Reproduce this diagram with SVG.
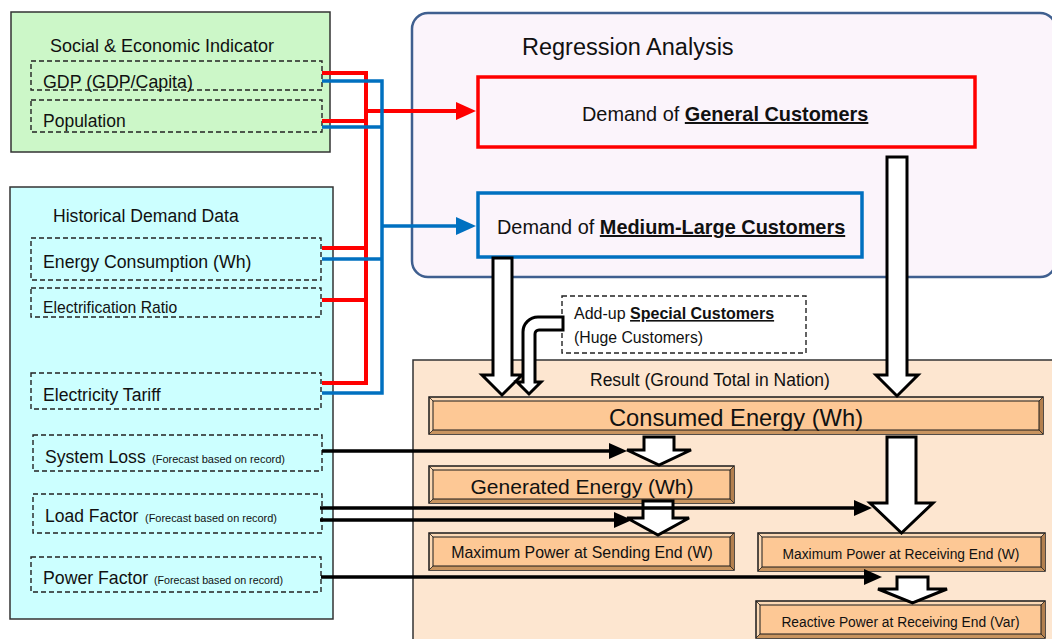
<svg xmlns="http://www.w3.org/2000/svg" width="1052" height="639" viewBox="0 0 1052 639">
  <style>
    text { font-family: "Liberation Sans", Arial, sans-serif; fill: #111; }
    .panel { stroke: #333; stroke-width: 1.5; }
    .dash { fill: none; stroke: #222; stroke-width: 1.4; stroke-dasharray: 5 3; }
    .small { font-size: 11.5px; }
    .red { fill: none; stroke: #ff0000; stroke-width: 4; stroke-linejoin: miter; }
    .blue { fill: none; stroke: #0070c0; stroke-width: 3.5; stroke-linejoin: miter; }
    .blk { fill: none; stroke: #000; stroke-width: 3.5; }
    .block { fill: #fff; stroke: #000; stroke-width: 3; stroke-linejoin: miter; }
    .bev-out { fill: #fcd9b4; stroke: #1a1a1a; stroke-width: 1.5; }
    .bev-r { fill: #b3804f; }
    .bev-b { fill: #c8945f; }
    .bev-in { fill: #fdc895; stroke: #1a1a1a; stroke-width: 1; }
    .bev-c { stroke: #1a1a1a; stroke-width: 0.8; }
  </style>
  <defs>
    <marker id="ah-red" markerUnits="userSpaceOnUse" markerWidth="20" markerHeight="20" refX="10" refY="10" orient="auto">
      <path d="M0,1 L20,10 L0,19 Z" fill="#ff0000"/>
    </marker>
    <marker id="ah-blue" markerUnits="userSpaceOnUse" markerWidth="20" markerHeight="20" refX="10" refY="10" orient="auto">
      <path d="M0,1 L20,10 L0,19 Z" fill="#0070c0"/>
    </marker>
    <marker id="ah-blk" markerUnits="userSpaceOnUse" markerWidth="18" markerHeight="18" refX="9" refY="9" orient="auto">
      <path d="M0,1 L18,9 L0,17 Z" fill="#000"/>
    </marker>
  </defs>

  <!-- input panels -->
  <g id="social-economic">
    <rect class="panel" x="11" y="12" width="319" height="140" fill="#ccf7c8"/>
    <text x="50" y="52" font-size="18">Social &amp; Economic Indicator</text>
    <rect class="dash" x="31" y="61" width="291" height="29"/>
    <text x="43" y="88" font-size="17.8">GDP (GDP/Capita)</text>
    <rect class="dash" x="31" y="100" width="291" height="32"/>
    <text x="43" y="127" font-size="17.5">Population</text>
  </g>

  <g id="historical-demand">
    <rect class="panel" x="10" y="187" width="323" height="432" fill="#ccffff"/>
    <text x="53" y="222" font-size="17.6">Historical Demand Data</text>
    <rect class="dash" x="31" y="238" width="290" height="42"/>
    <text x="43" y="268" font-size="17.7">Energy Consumption (Wh)</text>
    <rect class="dash" x="31" y="288" width="290" height="29"/>
    <text x="43" y="313" font-size="15.7">Electrification Ratio</text>
    <rect class="dash" x="31" y="373" width="290" height="36"/>
    <text x="43" y="401" font-size="17.6">Electricity Tariff</text>
    <rect class="dash" x="33" y="435" width="289" height="36"/>
    <text x="45" y="463" font-size="17.6">System Loss</text>
    <text class="small" x="152" y="463" textLength="133" lengthAdjust="spacingAndGlyphs">(Forecast based on record)</text>
    <rect class="dash" x="33" y="494" width="289" height="39"/>
    <text x="45" y="522" font-size="17.5">Load Factor</text>
    <text class="small" x="145" y="522" textLength="132" lengthAdjust="spacingAndGlyphs">(Forecast based on record)</text>
    <rect class="dash" x="31" y="557" width="290" height="35"/>
    <text x="43" y="584" font-size="17.7">Power Factor</text>
    <text class="small" x="154" y="584" textLength="129" lengthAdjust="spacingAndGlyphs">(Forecast based on record)</text>
  </g>

  <!-- regression stage -->
  <g id="regression-analysis">
    <rect x="412" y="13" width="644" height="264" rx="16" fill="#fbf4fb" stroke="#3f5f8f" stroke-width="2.5"/>
    <text x="522" y="55" font-size="23.5">Regression Analysis</text>
  </g>

  <g id="general-customers">
    <rect x="478" y="77" width="497" height="70" fill="none" stroke="#ff0000" stroke-width="3.5"/>
    <text x="582" y="121" font-size="19.9">Demand of <tspan font-weight="bold" text-decoration="underline">General Customers</tspan></text>
  </g>

  <g id="medium-large-customers">
    <rect x="478" y="193" width="384" height="64" fill="none" stroke="#0070c0" stroke-width="3.5"/>
    <text x="497" y="234" font-size="19.9">Demand of <tspan font-weight="bold" text-decoration="underline">Medium-Large Customers</tspan></text>
  </g>

  <!-- result stage -->
  <g id="result">
    <rect class="panel" x="413" y="360" width="660" height="300" fill="#fde6d0"/>
    <text x="590" y="386" font-size="17.5">Result (Ground Total in Nation)</text>
  </g>

  <g id="special-customers">
    <rect class="dash" x="562" y="296" width="244" height="57" fill="#fff"/>
    <text x="574" y="319" font-size="16">Add-up <tspan font-weight="bold" text-decoration="underline">Special Customers</tspan></text>
    <text x="574" y="343" font-size="15.8">(Huge Customers)</text>
  </g>

  <g id="consumed-energy">
    <rect class="bev-out" x="429" y="397" width="614" height="37"/>
    <path class="bev-r" d="M1043,397 V434 L1039,430 V401 Z"/>
    <path class="bev-b" d="M429,434 H1043 L1039,430 H433 Z"/>
    <rect class="bev-in" x="433" y="401" width="606" height="29"/>
    <path class="bev-c" d="M429,397 L433,401 M1043,397 L1039,401 M429,434 L433,430 M1043,434 L1039,430"/>
    <text x="736" y="426" font-size="23.7" text-anchor="middle">Consumed Energy (Wh)</text>
  </g>

  <g id="generated-energy">
    <rect class="bev-out" x="429" y="466" width="305" height="37"/>
    <path class="bev-r" d="M734,466 V503 L730,499 V470 Z"/>
    <path class="bev-b" d="M429,503 H734 L730,499 H433 Z"/>
    <rect class="bev-in" x="433" y="470" width="297" height="29"/>
    <path class="bev-c" d="M429,466 L433,470 M734,466 L730,470 M429,503 L433,499 M734,503 L730,499"/>
    <text x="582" y="494" font-size="21" text-anchor="middle">Generated Energy (Wh)</text>
  </g>

  <g id="max-power-sending">
    <rect class="bev-out" x="429" y="533" width="305" height="37"/>
    <path class="bev-r" d="M734,533 V570 L730,566 V537 Z"/>
    <path class="bev-b" d="M429,570 H734 L730,566 H433 Z"/>
    <rect class="bev-in" x="433" y="537" width="297" height="29"/>
    <path class="bev-c" d="M429,533 L433,537 M734,533 L730,537 M429,570 L433,566 M734,570 L730,566"/>
    <text x="582" y="558" font-size="15.9" text-anchor="middle">Maximum Power at Sending End (W)</text>
  </g>

  <g id="max-power-receiving">
    <rect class="bev-out" x="758" y="533" width="287" height="38"/>
    <path class="bev-r" d="M1045,533 V571 L1041,567 V537 Z"/>
    <path class="bev-b" d="M758,571 H1045 L1041,567 H762 Z"/>
    <rect class="bev-in" x="762" y="537" width="279" height="30"/>
    <path class="bev-c" d="M758,533 L762,537 M1045,533 L1041,537 M758,571 L762,567 M1045,571 L1041,567"/>
    <text x="901" y="559" font-size="13.8" text-anchor="middle">Maximum Power at Receiving End (W)</text>
  </g>

  <g id="reactive-power">
    <rect class="bev-out" x="756" y="601" width="289" height="37"/>
    <path class="bev-r" d="M1045,601 V638 L1041,634 V605 Z"/>
    <path class="bev-b" d="M756,638 H1045 L1041,634 H760 Z"/>
    <rect class="bev-in" x="760" y="605" width="281" height="29"/>
    <path class="bev-c" d="M756,601 L760,605 M1045,601 L1041,605 M756,638 L760,634 M1045,638 L1041,634"/>
    <text x="900.5" y="627" font-size="13.8" text-anchor="middle">Reactive Power at Receiving End (Var)</text>
  </g>

  <!-- connectors -->
  <g id="connectors">
    <!-- inputs to general customers -->
    <path class="red" d="M322,73 H366 V383 H322 M322,121 H366 M322,248 H366 M322,300 H366"/>
    <path class="red" d="M366,111 H466" marker-end="url(#ah-red)"/>
    <!-- inputs to medium-large customers -->
    <path class="blue" d="M322,81 H382 V393 H322 M322,127 H382 M322,259 H382"/>
    <path class="blue" d="M382,226 H466" marker-end="url(#ah-blue)"/>

    <!-- block arrows through the result stage -->
    <path class="block" d="M493,258 H512 V375 H522 L502,395 L482,375 H493 Z"/>
    <path class="block" d="M563,317 H538 A15,15 0 0 0 523,332 V382 H517 L529,394 L541,382 H535 V334 A4,4 0 0 1 539,330 H563 Z"/>
    <path class="block" d="M887,157 H907 V375 H918 L897,396 L876,375 H887 Z"/>
    <path class="block" d="M644,437 H674 V450 H691 L659,465 L627,450 H644 Z"/>
    <path class="block" d="M643,501 H673 V518 H689 L658,535 L627,518 H643 Z"/>
    <path class="block" d="M887,437 H916 V503 H933 L901.5,533 L870,503 H887 Z"/>
    <path class="block" d="M897,577 H928 V589 H947 L912.5,603 L878,589 H897 Z"/>

    <!-- forecast factors -->
    <path class="blk" d="M322,451 H618" marker-end="url(#ah-blk)"/>
    <path class="blk" d="M320,508 H863" marker-end="url(#ah-blk)"/>
    <path class="blk" d="M320,520 H623" marker-end="url(#ah-blk)"/>
    <path class="blk" d="M321,577 H873" marker-end="url(#ah-blk)"/>
  </g>
</svg>
